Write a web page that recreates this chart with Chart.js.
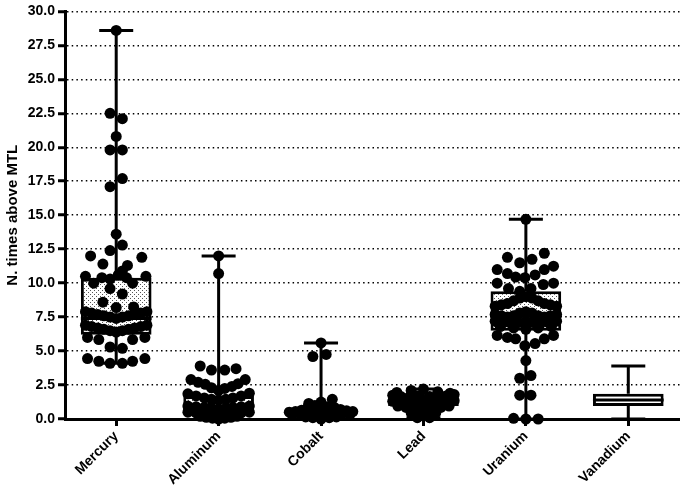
<!DOCTYPE html>
<html>
<head>
<meta charset="utf-8">
<script src="https://cdn.jsdelivr.net/npm/chart.js@4.4.0/dist/chart.umd.min.js"></script>
<style>
  html, body { margin: 0; padding: 0; background: #fff; }
  #wrap { width: 685px; height: 495px; }
</style>
</head>
<body>
<div id="wrap"><canvas id="boxChart"></canvas></div>
<script>
// ** categories and box statistics
const metals = ["Mercury", "Aluminum", "Cobalt", "Lead", "Uranium", "Vanadium"];
const boxMin = [4.1, 0, 0, 0.1, 0, 0];
const boxQ1 = [6.2, 0.35, 0.2, 0.95, 6.5, 0.95];
const boxMedian = [7.4, 0.75, 0.5, 1.3, 7.6, 1.4];
const boxQ3 = [10.4, 1.7, 0.85, 1.6, 9.4, 1.85];
const boxMax = [28.6, 12.0, 5.6, 2.2, 14.7, 3.9];
const yTicks = [0, 2.5, 5, 7.5, 10, 12.5, 15, 17.5, 20, 22.5, 25, 27.5, 30];

// ** individual samples (value, and swarm offset in category units)
const mercuryY = [28.6, 22.5, 22.1, 20.8, 19.8, 19.8, 17.7, 17.1, 13.6, 12.8, 12.4, 12.0, 11.9, 11.4, 11.3, 10.9,
  10.5, 10.0, 10.4, 10.3, 10.6, 10.4, 10.0, 10.5,
  9.6, 9.2, 8.6, 8.2, 8.25,
  7.9, 7.8, 7.7, 7.6, 7.5, 7.4, 7.5, 7.6, 7.7, 7.8, 7.9,
  6.9, 6.8, 6.7, 6.6, 6.5, 6.4, 6.5, 6.6, 6.7, 6.8, 6.9,
  6.0, 5.85, 5.85, 6.0, 5.3, 5.2, 4.45, 4.25, 4.1, 4.1, 4.25, 4.45];
const mercuryDx = [0, -0.06, 0.06, 0, -0.06, 0.06, 0.06, -0.06, 0, 0.06, -0.06, -0.25, 0.25, -0.13, 0.11, 0.06,
  -0.30, -0.22, -0.14, -0.06, 0.02, 0.10, 0.16, 0.29,
  -0.06, 0.06, -0.13, 0, 0.17,
  -0.30, -0.24, -0.18, -0.12, -0.06, 0, 0.06, 0.12, 0.18, 0.24, 0.30,
  -0.30, -0.24, -0.18, -0.12, -0.06, 0, 0.06, 0.12, 0.18, 0.24, 0.30,
  -0.28, -0.17, 0.16, 0.28, -0.06, 0.06, -0.28, -0.17, -0.06, 0.06, 0.16, 0.28];

const aluminumY = [12.0, 10.7, 3.9, 3.6, 3.6, 3.7,
  2.9, 2.7, 2.55, 2.3, 2.1, 2.25, 2.4, 2.6, 2.9,
  1.85, 1.7, 1.55, 1.45, 1.4, 1.45, 1.55, 1.7, 1.9,
  0.95, 0.9, 0.85, 0.8, 0.75, 0.8, 0.85, 0.9, 0.95,
  0.5, 0.45, 0.4, 0.35, 0.3, 0.35, 0.4, 0.45, 0.5,
  0.2, 0.12, 0.06, 0, 0.06, 0.12, 0.2];
const aluminumDx = [0, 0, -0.18, -0.07, 0.06, 0.17,
  -0.27, -0.20, -0.13, -0.07, 0, 0.06, 0.13, 0.19, 0.26,
  -0.30, -0.22, -0.14, -0.07, 0, 0.07, 0.14, 0.22, 0.30,
  -0.30, -0.22, -0.14, -0.07, 0, 0.07, 0.14, 0.22, 0.30,
  -0.30, -0.22, -0.14, -0.07, 0, 0.07, 0.14, 0.22, 0.30,
  -0.18, -0.12, -0.06, 0, 0.06, 0.12, 0.18];

const cobaltY = [5.6, 4.6, 4.75, 1.45, 1.25, 1.15,
  0.5, 0.55, 0.65, 0.85, 1.0, 0.95, 0.9, 0.85, 0.7, 0.6, 0.55,
  0.3, 0.35, 0.4, 0.45, 0.45, 0.4, 0.35, 0.3,
  0.15, 0.1, 0.05, 0.1, 0.15, 0];
const cobaltDx = [0, -0.08, 0.05, 0.11, 0, -0.12,
  -0.31, -0.25, -0.19, -0.13, -0.06, 0, 0.06, 0.13, 0.19, 0.25, 0.31,
  -0.28, -0.20, -0.12, -0.05, 0.05, 0.12, 0.20, 0.28,
  -0.15, -0.08, 0, 0.08, 0.15, 0];

const leadY = [2.2, 2.1, 2.0, 1.95, 1.9,
  1.75, 1.65, 1.6, 1.7, 1.65, 1.6, 1.7, 1.8,
  1.3, 1.25, 1.2, 1.3, 1.35, 1.3, 1.25, 1.3, 1.35,
  0.95, 0.85, 0.8, 0.75, 0.8, 0.85, 0.95,
  0.45, 0.3, 0.3, 0.45, 0.1, 0.1];
const leadDx = [0, -0.12, 0.14, -0.26, 0.26,
  -0.30, -0.22, -0.14, -0.06, 0.06, 0.14, 0.22, 0.30,
  -0.30, -0.22, -0.15, -0.07, 0, 0.07, 0.15, 0.22, 0.30,
  -0.25, -0.17, -0.09, 0, 0.09, 0.17, 0.25,
  -0.12, -0.05, 0.05, 0.12, -0.06, 0.06];

const uraniumY = [14.7, 12.2, 11.9, 11.75, 11.5, 11.25, 11.0, 11.0, 10.7, 10.45, 10.4, 10.6, 10.0, 10.0, 9.9, 9.6, 9.6, 9.4,
  8.3, 8.4, 8.5, 8.7, 8.9, 9.0, 8.9, 8.7, 8.5, 8.4, 8.3,
  7.7, 7.6, 7.5, 7.6, 7.8, 7.9, 7.8, 7.6, 7.5, 7.6, 7.7,
  7.2, 7.1, 7.0, 7.1, 7.2, 7.1, 7.0, 7.1, 7.2,
  6.8, 6.7, 6.6, 6.7, 6.8,
  6.15, 6.0, 5.9, 5.4, 5.55, 5.9, 6.15, 4.3, 3.0, 3.2, 1.75, 1.75, 0.05, 0, 0];
const uraniumDx = [0, 0.18, -0.18, 0.06, -0.06, 0.27, -0.28, 0.18, -0.18, -0.10, -0.01, 0.09, -0.28, 0.27, 0.17, -0.17, 0.05, -0.06,
  -0.30, -0.24, -0.18, -0.12, -0.06, 0, 0.06, 0.12, 0.18, 0.24, 0.30,
  -0.30, -0.24, -0.18, -0.12, -0.06, 0, 0.06, 0.12, 0.18, 0.24, 0.30,
  -0.30, -0.22, -0.14, -0.07, 0, 0.07, 0.14, 0.22, 0.30,
  -0.25, -0.12, 0, 0.12, 0.25,
  -0.28, -0.18, -0.10, -0.01, 0.09, 0.18, 0.27, 0, -0.06, 0.05, -0.06, 0.05, -0.12, 0, 0.12];

const groupY = [mercuryY, aluminumY, cobaltY, leadY, uraniumY, []];
const groupDx = [mercuryDx, aluminumDx, cobaltDx, leadDx, uraniumDx, []];

// build scatter points from the groups
const samplePoints = [];
groupY.forEach((ys, i) => {
    ys.forEach((v, k) => samplePoints.push({ x: i + groupDx[i][k], y: v }));
});

// dotted fill used in the boxes
const makeDots = () => {
    const c = document.createElement("canvas");
    c.width = 4; c.height = 4;
    const g = c.getContext("2d");
    g.fillStyle = "#fff";
    g.fillRect(0, 0, 4, 4);
    g.fillStyle = "#555";
    g.fillRect(0, 0, 1, 1);
    g.fillRect(2, 2, 1, 1);
    return g.createPattern(c, "repeat");
};
const dots = makeDots();

// whiskers, caps and medians, drawn right after the boxes
const whiskerPlugin = {
    id: "whiskers",
    afterDatasetDraw(chart, args) {
        if (args.meta.type !== "bar") return;
        const { ctx } = chart;
        const xs = chart.scales.x, ys = chart.scales.y;
        const bars = args.meta.data;
        ctx.save();
        ctx.strokeStyle = "#000";
        ctx.lineWidth = 3;
        ctx.lineCap = "butt";
        metals.forEach((m, i) => {
            const cx = xs.getPixelForValue(i);
            const half = bars[i].width / 2;
            const yMin = ys.getPixelForValue(boxMin[i]);
            const yMax = ys.getPixelForValue(boxMax[i]);
            ctx.beginPath();
            ctx.moveTo(cx, ys.getPixelForValue(boxQ3[i]));
            ctx.lineTo(cx, yMax);
            ctx.moveTo(cx, ys.getPixelForValue(boxQ1[i]));
            ctx.lineTo(cx, yMin);
            ctx.moveTo(cx - 17, yMax);
            ctx.lineTo(cx + 17, yMax);
            ctx.moveTo(cx - 17, yMin);
            ctx.lineTo(cx + 17, yMin);
            const ym = ys.getPixelForValue(boxMedian[i]);
            ctx.moveTo(cx - half, ym);
            ctx.lineTo(cx + half, ym);
            ctx.stroke();
        });
        ctx.restore();
    }
};

const ctx = document.getElementById("boxChart");
new Chart(ctx, {
    type: "bar",
    data: {
        labels: metals,
        datasets: [
            {
                type: "scatter",
                label: "Samples",
                data: samplePoints,
                xAxisID: "xs",
                yAxisID: "y",
                backgroundColor: "#000",
                borderWidth: 0,
                pointRadius: 5.5,
                pointHoverRadius: 5.5,
                clip: false,
                order: 0
            },
            {
                type: "bar",
                label: "Box",
                data: metals.map((m, i) => [boxQ1[i], boxQ3[i]]),
                xAxisID: "x",
                yAxisID: "y",
                backgroundColor: metals.map((m, i) => i === 5 ? "#fff" : dots),
                borderColor: "#000",
                borderWidth: 3,
                borderSkipped: false,
                grouped: false,
                categoryPercentage: 1,
                barPercentage: 0.69,
                order: 1
            }
        ]
    },
    options: {
        responsive: true,
        maintainAspectRatio: false,
        animation: false,
        events: [],
        layout: { padding: { top: 9, right: 0, left: 0, bottom: 0 } },
        plugins: {
            legend: { display: false },
            tooltip: { enabled: false }
        },
        scales: {
            x: {
                type: "category",
                offset: true,
                grid: {
                    drawOnChartArea: false,
                    drawTicks: true,
                    offset: false,
                    tickLength: 7,
                    tickWidth: 3,
                    tickColor: "#000"
                },
                border: { display: true, color: "#000", width: 3 },
                ticks: {
                    color: "#000",
                    maxRotation: 45,
                    minRotation: 45,
                    padding: 2,
                    font: { family: "'Liberation Sans', Arial, sans-serif", size: 14, weight: "bold" }
                },
                afterFit: (s) => { s.height = 76; }
            },
            xs: {
                type: "linear",
                display: false,
                offset: false,
                min: -0.5,
                max: 5.5
            },
            y: {
                min: 0,
                max: 30,
                afterBuildTicks: (s) => { s.ticks = yTicks.map(v => ({ value: v })); },
                grid: {
                    color: "#000",
                    lineWidth: 1.5,
                    drawTicks: true,
                    tickLength: 7,
                    tickWidth: 3,
                    tickColor: "#000",
                    tickBorderDash: []
                },
                border: { display: true, color: "#000", width: 3, dash: [1.5, 3.2] },
                ticks: {
                    color: "#000",
                    padding: 3,
                    callback: (v) => Number(v).toFixed(1),
                    font: { family: "'Liberation Sans', Arial, sans-serif", size: 14, weight: "bold" }
                },
                title: {
                    display: true,
                    text: "N. times above MTL",
                    color: "#000",
                    padding: { top: 4, bottom: 2 },
                    font: { family: "'Liberation Sans', Arial, sans-serif", size: 15, weight: "bold" }
                },
                afterFit: (s) => { s.width = 65; }
            }
        }
    },
    plugins: [whiskerPlugin]
});
</script>
